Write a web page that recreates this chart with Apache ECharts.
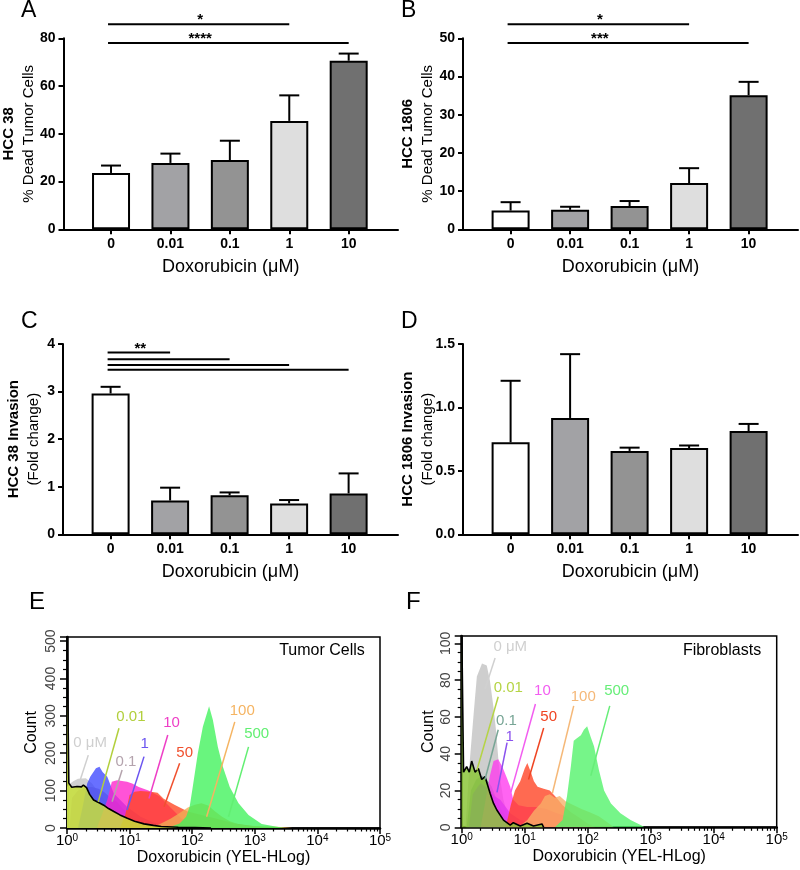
<!DOCTYPE html>
<html><head><meta charset="utf-8">
<script src="https://cdn.jsdelivr.net/npm/echarts@6/dist/echarts.min.js"></script>
<style>html,body{margin:0;padding:0;background:#fff}#c{width:800px;height:870px}</style>
</head><body><div id="c"></div>
<script>
// ---------- data ----------
const categories = ['0', '0.01', '0.1', '1', '10'];
const barColors = ['#ffffff', '#a2a2a5', '#939393', '#dedede', '#707070'];

const deadHCC38 = [23.6, 27.8, 29.0, 45.4, 70.6];
const deadHCC38Err = [3.1, 3.9, 8.1, 10.7, 3.0];
const deadHCC1806 = [4.9, 5.1, 6.1, 12.1, 35.1];
const deadHCC1806Err = [2.2, 0.8, 1.3, 3.9, 3.5];
const invHCC38 = [2.96, 0.71, 0.82, 0.65, 0.86];
const invHCC38Err = [0.14, 0.27, 0.06, 0.07, 0.42];
const invHCC1806 = [0.725, 0.917, 0.657, 0.68, 0.814];
const invHCC1806Err = [0.485, 0.503, 0.026, 0.02, 0.056];

// significance brackets: [fromCategory, toCategory, level, stars]
const sigA = [[0, 3, 85.9, '*'], [0, 4, 78.0, '****']];
const sigB = [[0, 3, 53.7, '*'], [0, 4, 48.8, '***']];
const sigC = [[0, 1, 3.82, '**'], [0, 2, 3.68, ''], [0, 3, 3.56, ''], [0, 4, 3.46, '']];

// flow histogram legend levels (µM)
const doseLabels = ['0 μM', '0.01', '0.1', '1', '10', '50', '100', '500'];
const logTicks = [1, 10, 100, 1000, 10000, 100000];

// Tumor cells histograms [fluorescence, count]
const tumor0 = [[1,110],[1.1,118],[1.26,125],[1.5,132],[2.0,133],[2.5,120],[3.2,95],[4,75],[5,55],[6.3,40],[8,28],[10,18],[16,8],[25,3],[40,0]];
const tumor001 = [[1,530],[1.03,530],[1.07,120],[1.19,109],[1.45,111],[1.7,110],[1.83,115],[2.05,108],[2.3,90],[2.66,75],[3.2,68],[3.86,61],[4.6,52],[5.6,44],[7,35],[9.2,26],[12,18],[17,11],[24,7],[32,4],[60,2],[110,1],[200,0]];
const tumor01 = [[1.1,0],[1.2,80],[1.5,100],[2,110],[2.5,110],[3.2,105],[4,95],[5,80],[6.3,70],[8,50],[10,35],[13,20],[18,8],[25,2],[35,0]];
const tumor1 = [[1.5,0],[1.8,60],[2.1,119],[2.35,137],[2.9,160],[3.3,164],[3.7,150],[4.4,137],[5.6,92],[9.1,57],[15,30],[24.5,14],[46,3],[60,0]];
const tumor10 = [[3,0],[3.7,40],[4.4,75],[5.2,124],[6.3,128],[9.1,124],[11,119],[14,110],[20,100],[30,85],[45,55],[68,25],[100,12],[160,5],[250,0]];
const tumor50 = [[7,0],[8.5,35],[10,88],[12,97],[15,99],[22,97],[28,94],[35,78],[52,62],[85,44],[141,35],[229,26],[479,12],[1000,5],[2000,1],[2500,0]];
const tumor100 = [[20,0],[30,10],[45,25],[63,40],[85,55],[110,62],[140,66],[180,60],[230,45],[300,30],[400,18],[550,10],[800,6],[1300,5],[2000,4],[3000,2],[4000,0]];
const tumor500 = [[40,0],[63,12],[80,30],[91,57],[102,110],[123,200],[148,271],[186,326],[214,289],[257,217],[309,164],[398,110],[550,66],[794,35],[1290,11],[2140,4],[3000,0]];

// Fibroblast histograms [fluorescence, count]
const fibro0 = [[1.15,0],[1.25,20],[1.35,37],[1.55,62],[1.74,82],[2.1,89],[2.5,88],[2.8,80],[3.2,65],[3.5,53],[3.8,38],[4.1,26],[4.6,15],[5.3,7],[6.5,2],[8,0]];
const fibro001 = [[1,110],[1.03,110],[1.07,30],[1.2,33],[1.32,30],[1.44,36],[1.63,30],[1.84,32],[2.08,26],[2.35,27.5],[2.82,18.5],[3.2,13],[3.61,9.4],[4.61,3.9],[5.89,1.2],[6.6,2.5],[8.5,0.7],[10.9,2.2],[13.8,0.7],[18.8,1.8],[20,0]];
const fibro01 = [[1.2,0],[1.4,20],[1.7,26],[2.1,28],[2.5,26],[3,22],[3.5,16],[4.2,10],[5,6],[6.5,3],[9,1],[12,0]];
const fibro1 = [[1.3,0],[1.5,18],[1.8,22],[2,24],[2.4,22],[2.8,20],[3.3,17],[4.1,15],[5,11],[5.9,7.6],[8.5,4],[14,2],[20,0]];
const fibro10 = [[2,0],[2.4,15],[2.8,28],[3.2,36],[3.8,37],[4.4,33],[5.2,27],[5.9,22],[6.6,15],[8,12],[11,11],[15,11],[22,10],[30,8],[45,6],[68,3],[100,0]];
const fibro50 = [[5,0],[6,12],[7,20],[8.5,25],[10,32],[11,35],[12.5,30],[14,25],[16,22],[20,21],[25,20],[32,16],[40,12],[55,8],[75,5],[100,2],[130,0]];
const fibro100 = [[8,0],[11,4],[14,9],[18,13],[21,17],[25,18],[30,16],[36,17],[45,14],[60,12],[80,10],[110,8],[150,6],[200,3],[260,0]];
const fibro500 = [[30,0],[40,4],[42,8],[47,17],[54,33],[60,47],[65,48],[78,50],[87,53],[98,55],[112,49],[126,44],[151,31],[182,20],[234,13],[331,7.6],[479,4],[692,1.2],[800,0]];

// ---------- styling / layout ----------
const FF = '"Liberation Sans", Arial, Helvetica, sans-serif';
const fillE = ['#c4c4c4','#c8e03a','#a98fb0','#3d48ff','#ff22cc','#ff4420','#f0ae55','#3ff25a'];
const fillF = ['#c0c0c0','#8cc63a','#6f9c8e','#7a36f0','#ff38ee','#ff4020','#f8b068','#4ff268'];
const labE = ['#cfcfcf','#b2cf3c','#b4a3ad','#6b55f0','#ee3ec6','#f0502e','#f5b462','#62ef72'];
const labF = ['#d0d0d0','#b5d445','#77a595','#8a52ee','#f25df0','#ef4422','#f5b878','#66ee78'];
// label anchor (text x,y ; leader start x,y ; leader end x,y) in data coordinates
const annE = [[2.34,228,2.19,195,1.62,128],[10.5,298,6.76,267,3.16,70],[8.7,177,7.59,155,5.25,70],[17.4,225,17,191,9.1,48],[46.8,282,40.7,249,20.4,79],[75.9,201,63,173,35.5,57],[631,314,479,284,170,30],[1072,251,794,217,380,30]];
const annF = [[5.9,98,3.39,92,2.34,75],[5.5,76,3.8,71,1.74,31],[5.13,58,3.8,53,2.34,26],[5.75,49,5.25,46,3.63,19],[19.1,74,14.8,67,6.03,19],[24,60,20,54,11.5,26],[85,71,60,66,27.5,18.5],[288,74,224,66,112,28]];

const minorLog = [];
for (let d = 0; d < 5; d++) for (let k = 2; k <= 9; k++) minorLog.push(k * Math.pow(10, d));

const grids = [
  {left: 63, top: 38.3, width: 335, height: 191},
  {left: 463, top: 38.3, width: 335, height: 191},
  {left: 63, top: 344, width: 335, height: 190.3},
  {left: 463, top: 344, width: 335, height: 190.3},
  {left: 67, top: 637, width: 313, height: 191, show: true, borderColor: '#000', borderWidth: 1.5},
  {left: 461.7, top: 636, width: 315, height: 191.3, show: true, borderColor: '#000', borderWidth: 1.5}
];

const panels = [
  {vals: deadHCC38, errs: deadHCC38Err, sig: sigA, ymax: 80, yint: 20, n1: 'HCC 38', n2: '% Dead Tumor Cells', gap: 25, dec: 0},
  {vals: deadHCC1806, errs: deadHCC1806Err, sig: sigB, ymax: 50, yint: 10, n1: 'HCC 1806', n2: '% Dead Tumor Cells', gap: 25, dec: 0},
  {vals: invHCC38, errs: invHCC38Err, sig: sigC, ymax: 4, yint: 1, n1: 'HCC 38 Invasion', n2: '(Fold change)', gap: 19, dec: 0},
  {vals: invHCC1806, errs: invHCC1806Err, sig: [], ymax: 1.5, yint: 0.5, n1: 'HCC 1806 Invasion', n2: '(Fold change)', gap: 25, dec: 1}
];

const xAxes = [], yAxes = [], series = [];
const catIdx = categories.map((c, i) => i);

panels.forEach((p, g) => {
  xAxes.push({
    gridIndex: g, type: 'value', min: -0.8, max: 4.83, splitLine: {show: false},
    axisLine: {show: true, onZero: false, lineStyle: {color: '#000', width: 2}},
    axisTick: {show: true, customValues: catIdx, length: 5, lineStyle: {color: '#000', width: 2}},
    axisLabel: {customValues: catIdx, formatter: v => categories[Math.round(v)], fontWeight: 'bold', fontSize: 14, color: '#000', margin: 8, fontFamily: FF},
    name: 'Doxorubicin (μM)', nameLocation: 'middle', nameGap: 29,
    nameTextStyle: {fontSize: 18, color: '#000', fontFamily: FF}
  });
  yAxes.push({
    gridIndex: g, type: 'value', min: 0, max: p.ymax, interval: p.yint, splitLine: {show: false},
    axisLine: {show: true, onZero: false, lineStyle: {color: '#000', width: 2}},
    axisTick: {show: true, length: 5, lineStyle: {color: '#000', width: 2}},
    axisLabel: {fontWeight: 'bold', fontSize: 14, color: '#000', margin: 8, fontFamily: FF,
      formatter: v => p.dec ? v.toFixed(p.dec) : String(v)},
    name: '{b|' + p.n1 + '}\n{n|' + p.n2 + '}', nameLocation: 'middle', nameRotate: 90, nameGap: p.gap,
    nameMoveOverlap: false,
    nameTextStyle: {color: '#000', fontFamily: FF, rich: {
      b: {fontWeight: 'bold', fontSize: 15, lineHeight: 20, color: '#000', fontFamily: FF},
      n: {fontSize: 15, lineHeight: 20, color: '#000', fontFamily: FF}}}
  });
  series.push({
    type: 'bar', xAxisIndex: g, yAxisIndex: g, barWidth: 38, silent: true,
    data: p.vals.map((v, i) => ({value: [i, v], itemStyle: {color: barColors[i], borderColor: '#000', borderWidth: 2}}))
  });
  series.push({
    type: 'custom', xAxisIndex: g, yAxisIndex: g, silent: true, clip: false, z: 3,
    data: p.vals.map((v, i) => [i, v, v + p.errs[i]]),
    renderItem: (params, api) => {
      const a = api.coord([api.value(0), api.value(1)]);
      const b = api.coord([api.value(0), api.value(2)]);
      return {type: 'group', children: [
        {type: 'line', shape: {x1: a[0], y1: a[1], x2: b[0], y2: b[1]}, style: {stroke: '#000', lineWidth: 2}},
        {type: 'line', shape: {x1: b[0] - 10, y1: b[1], x2: b[0] + 10, y2: b[1]}, style: {stroke: '#000', lineWidth: 2}}
      ]};
    }
  });
  if (p.sig.length) {
    const sig = p.sig;
    series.push({
      type: 'custom', xAxisIndex: g, yAxisIndex: g, silent: true, clip: false, z: 3,
      data: sig.map(s => [s[0], s[2], s[1]]),
      renderItem: (params, api) => {
        const s = sig[params.dataIndex];
        const a = api.coord([api.value(0), api.value(1)]);
        const b = api.coord([api.value(2), api.value(1)]);
        const m0 = api.coord([sig[0][0], s[2]]), m1 = api.coord([sig[0][1], s[2]]);
        const ch = [{type: 'line', shape: {x1: a[0] - 3, y1: a[1], x2: b[0], y2: b[1]}, style: {stroke: '#000', lineWidth: 2}}];
        if (s[3]) ch.push({type: 'text', x: (m0[0] + m1[0]) / 2, y: a[1] - 4,
          style: {text: s[3], fill: '#000', font: 'bold 15px ' + FF, align: 'center', verticalAlign: 'middle', textAlign: 'center', textVerticalAlign: 'middle'}});
        return {type: 'group', children: ch};
      }
    });
  }
});

function histPanel(g, ymax, yint, hists, fills, labs, ann, nameGapY) {
  const xi = xAxes.length, yi = yAxes.length;
  xAxes.push({
    gridIndex: g, type: 'log', logBase: 10, min: 1, max: 100000, position: 'bottom', splitLine: {show: false},
    axisLine: {show: true, onZero: false, lineStyle: {color: '#000', width: 2.5}},
    axisTick: {show: true, customValues: logTicks, length: 6, lineStyle: {color: '#000', width: 1.5}},
    axisLabel: {customValues: logTicks, margin: 5,
      formatter: v => '{b|10}{s|' + Math.round(Math.log10(v)) + '}',
      rich: {b: {fontSize: 15, color: '#000', fontFamily: FF}, s: {fontSize: 10, color: '#000', fontFamily: FF, verticalAlign: 'top', padding: [0, 0, 6, 0]}}},
    name: 'Doxorubicin (YEL-HLog)', nameLocation: 'middle', nameGap: 21,
    nameTextStyle: {fontSize: 16, color: '#000', fontFamily: FF}
  });
  xAxes.push({
    gridIndex: g, type: 'log', logBase: 10, min: 1, max: 100000, position: 'bottom', splitLine: {show: false},
    axisLine: {show: false, onZero: false},
    axisTick: {show: true, customValues: minorLog, length: 3.5, lineStyle: {color: '#000', width: 1.2}},
    axisLabel: {show: false}
  });
  yAxes.push({
    gridIndex: g, type: 'value', min: 0, max: ymax, interval: yint, splitLine: {show: false},
    axisLine: {show: true, onZero: false, lineStyle: {color: '#000', width: 2.5}},
    axisTick: {show: true, length: 7, lineStyle: {color: '#000', width: 1.5}},
    minorTick: {show: true, splitNumber: 4, length: 4, lineStyle: {color: '#000', width: 1.2}},
    axisLabel: {rotate: 90, showMaxLabel: false, fontSize: 14, color: '#444', margin: 9, fontFamily: FF},
    name: 'Count', nameLocation: 'middle', nameRotate: 90, nameGap: nameGapY, nameMoveOverlap: false,
    nameTextStyle: {fontSize: 16, color: '#000', fontFamily: FF}
  });
  const order = [0, 2, 3, 4, 5, 6, 7, 1];
  order.forEach(k => {
    series.push({
      type: 'line', xAxisIndex: xi, yAxisIndex: yi, data: hists[k], showSymbol: false, symbol: 'none',
      silent: true, clip: true, z: 2,
      lineStyle: k === 1 ? {color: '#000', width: 1.6} : {width: 0, opacity: 0},
      areaStyle: {color: fills[k], opacity: k === 1 ? 0.85 : 0.78}
    });
  });
  series.push({
    type: 'custom', xAxisIndex: xi, yAxisIndex: yi, silent: true, clip: false, z: 10,
    data: ann.map(a => [a[4], a[5]]),
    renderItem: (params, api) => {
      const a = ann[params.dataIndex];
      const t = api.coord([a[0], a[1]]), s = api.coord([a[2], a[3]]), e = api.coord([api.value(0), api.value(1)]);
      const c = labs[params.dataIndex];
      return {type: 'group', children: [
        {type: 'line', shape: {x1: s[0], y1: s[1], x2: e[0], y2: e[1]}, style: {stroke: c, lineWidth: 1.5}},
        {type: 'text', x: t[0], y: t[1], style: {text: doseLabels[params.dataIndex], fill: c, font: '15px ' + FF,
          align: 'center', verticalAlign: 'middle', textAlign: 'center', textVerticalAlign: 'middle'}}
      ]};
    }
  });
}
histPanel(4, 511, 100, [tumor0, tumor001, tumor01, tumor1, tumor10, tumor50, tumor100, tumor500], fillE, labE, annE, 27);
histPanel(5, 104, 20, [fibro0, fibro001, fibro01, fibro1, fibro10, fibro50, fibro100, fibro500], fillF, labF, annF, 25);

function txt(t, x, y, size, align) {
  return {type: 'text', x: x, y: y, z: 100, style: {text: t, fill: '#000', font: size + 'px ' + FF,
    align: align || 'left', verticalAlign: 'top', textAlign: align || 'left', textVerticalAlign: 'top'}};
}

const option = {
  backgroundColor: '#fff',
  animation: false,
  grid: grids,
  xAxis: xAxes,
  yAxis: yAxes,
  series: series,
  graphic: [
    txt('A', 21, -1, 23), txt('B', 401, -1, 23), txt('C', 21, 310, 23), txt('D', 401, 310, 23),
    txt('E', 29, 590, 24), txt('F', 406, 590, 24),
    txt('Tumor Cells', 322, 643, 16, 'center'), txt('Fibroblasts', 722, 643, 16, 'center')
  ]
};
const chart = echarts.init(document.getElementById('c'), null, {renderer: 'canvas'});
chart.setOption(option);
</script>
</body></html>
